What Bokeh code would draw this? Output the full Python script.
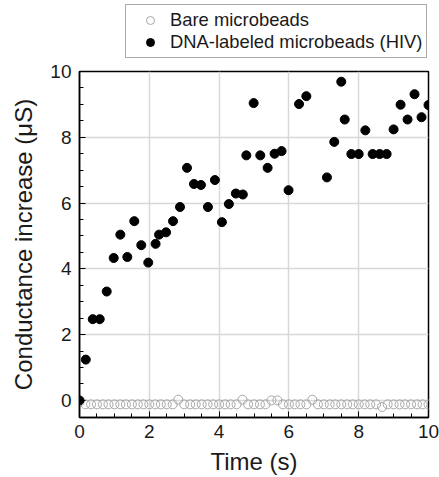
from bokeh.plotting import figure
from bokeh.layouts import column
from bokeh.models import Legend, LegendItem, FixedTicker
from bokeh.embed import file_html
from bokeh.resources import INLINE

# Bare microbeads (hollow grey)
bare_t = [0.0, 0.17, 0.33, 0.5, 0.67, 0.83, 1.0, 1.17, 1.33, 1.5,
          1.67, 1.83, 2.0, 2.17, 2.33, 2.5, 2.67, 2.83, 3.0, 3.17,
          3.33, 3.5, 3.67, 3.83, 4.0, 4.17, 4.33, 4.5, 4.67, 4.83,
          5.0, 5.17, 5.33, 5.5, 5.67, 5.83, 6.0, 6.17, 6.33, 6.5,
          6.67, 6.83, 7.0, 7.17, 7.33, 7.5, 7.67, 7.83, 8.0, 8.17,
          8.33, 8.5, 8.67, 8.83, 9.0, 9.17, 9.33, 9.5, 9.67, 9.83, 10.0]
bare_g = [-0.05, -0.12, -0.12, -0.12, -0.12, -0.12, -0.12, -0.12, -0.12, -0.12,
          -0.12, -0.12, -0.12, -0.12, -0.12, -0.12, -0.12, 0.02, -0.12, -0.12,
          -0.12, -0.12, -0.12, -0.12, -0.12, -0.12, -0.12, -0.12, 0.02, -0.12,
          -0.12, -0.12, -0.12, 0.0, 0.0, -0.12, -0.12, -0.12, -0.12, -0.12,
          0.02, -0.12, -0.12, -0.12, -0.12, -0.12, -0.12, -0.12, -0.12, -0.12,
          -0.12, -0.12, -0.2, -0.12, -0.12, -0.12, -0.12, -0.12, -0.12, -0.12, -0.12]

# DNA-labeled microbeads (HIV) (filled black)
dna_t = [0.0, 0.18, 0.38, 0.58, 0.78, 0.98, 1.17, 1.37, 1.57, 1.77,
         1.97, 2.18, 2.28, 2.48, 2.68, 2.88, 3.08, 3.28, 3.48, 3.68,
         3.88, 4.08, 4.28, 4.48, 4.68, 4.78, 4.99, 5.18, 5.39, 5.59,
         5.79, 5.99, 6.29, 6.5, 7.09, 7.3, 7.5, 7.6, 7.79, 8.0,
         8.19, 8.4, 8.6, 8.8, 9.0, 9.2, 9.4, 9.6, 9.8, 10.0]
dna_g = [0.0, 1.24, 2.47, 2.47, 3.31, 4.33, 5.04, 4.36, 5.45, 4.72,
         4.19, 4.76, 5.04, 5.11, 5.45, 5.88, 7.07, 6.58, 6.55, 5.88,
         6.7, 5.42, 5.97, 6.29, 6.26, 7.45, 9.04, 7.45, 7.07, 7.5,
         7.58, 6.39, 9.01, 9.25, 6.78, 7.86, 9.69, 8.54, 7.49, 7.49,
         8.21, 7.49, 7.49, 7.49, 8.24, 8.99, 8.54, 9.31, 8.61, 8.98]

labels = ["Bare microbeads", "DNA-labeled microbeads (HIV)"]
major_ticks = [0, 2, 4, 6, 8, 10]
minor_ticks = [i * 0.5 for i in range(21)]

FONT = "Liberation Sans"
TXT = "#1a1a1a"
HOLLOW = dict(size=9, marker="circle", fill_color=None, line_color="#a8a8a8", line_width=1)
FILLED = dict(size=9, marker="circle", fill_color="black", line_color="black")

# ---- top strip holding the legend (its frame is aligned with the main frame) ----
top = figure(width=439, height=59, x_range=(0, 1), y_range=(0, 1),
             x_axis_type=None, y_axis_type=None,
             output_backend="svg", toolbar_location=None,
             min_border_left=0, min_border_right=0, min_border_top=0, min_border_bottom=0)
top.outline_line_color = None
top.grid.visible = False
# keys for the legend, placed outside the visible range of this strip
lh = top.scatter([-5], [-5], **HOLLOW)
lf = top.scatter([-5], [-5], **FILLED)
legend = Legend(items=[LegendItem(label=labels[0], renderers=[lh]),
                       LegendItem(label=labels[1], renderers=[lf])],
                location=(46, 1))
legend.label_text_font = FONT
legend.label_text_font_size = "18.4px"
legend.label_text_color = TXT
legend.glyph_width = 40
legend.glyph_height = 20
legend.label_height = 20
legend.label_standoff = 0
legend.spacing = 0
legend.padding = 4
legend.margin = 0
legend.border_line_color = "#555555"
legend.border_line_width = 1
legend.background_fill_alpha = 1
top.add_layout(legend, "center")

# ---- main plot ----
p = figure(width=439, height=418, x_range=(0, 10), y_range=(-0.52, 10),
           output_backend="svg", toolbar_location=None,
           min_border_left=79, min_border_right=11, min_border_top=12, min_border_bottom=59)
p.outline_line_color = "black"
p.outline_line_width = 1.5

p.scatter(bare_t, bare_g, **HOLLOW)
p.scatter(dna_t, dna_g, **FILLED)

for ax in (p.xaxis[0], p.yaxis[0]):
    ax.ticker = FixedTicker(ticks=major_ticks, minor_ticks=minor_ticks)
    ax.axis_line_color = "black"
    ax.axis_line_width = 1.5
    ax.major_tick_in = 6
    ax.major_tick_out = 0
    ax.minor_tick_in = 4
    ax.minor_tick_out = 0
    ax.major_tick_line_color = "black"
    ax.minor_tick_line_color = "black"
    ax.major_label_text_font = FONT
    ax.major_label_text_font_size = "19px"
    ax.major_label_text_color = TXT
    ax.axis_label_text_font = FONT
    ax.axis_label_text_font_size = "24px"
    ax.axis_label_text_font_style = "normal"
    ax.axis_label_text_color = TXT

p.xaxis.axis_label = "Time (s)"
p.yaxis.axis_label = "Conductance increase (\u03bcS)"
p.xaxis.major_label_standoff = 7
p.xaxis.axis_label_standoff = 7
p.yaxis.major_label_standoff = 8
p.yaxis.axis_label_standoff = 10

for g in (p.xgrid[0], p.ygrid[0]):
    g.grid_line_color = "#d8d8d8"
    g.grid_line_width = 1.5

layout = column(top, p, spacing=0)
open("out.html", "w").write(file_html(layout, INLINE))
